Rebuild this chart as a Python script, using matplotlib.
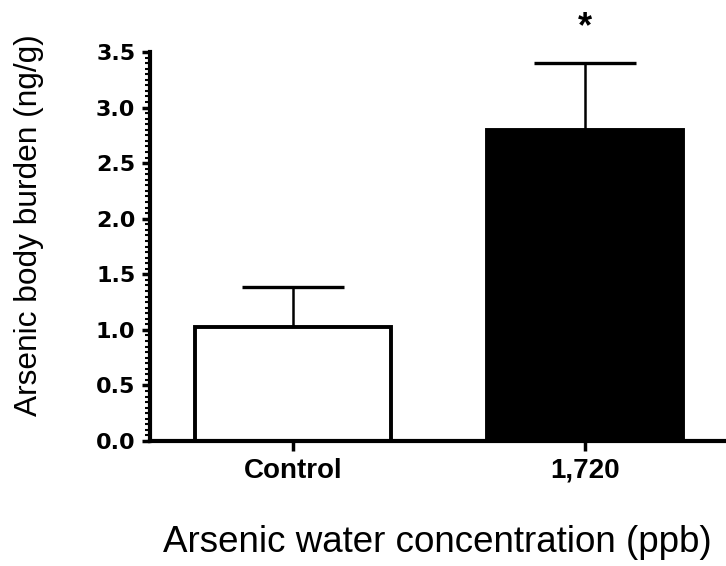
import matplotlib.pyplot as plt
from matplotlib.ticker import MultipleLocator

# data
groups = ["Control", "1,720"]
means = [1.03, 2.80]
sem = [0.36, 0.60]
colors = ["white", "black"]
sig = ["", "*"]

plt.rcParams["font.family"] = ["Liberation Sans", "DejaVu Sans"]

fig = plt.figure(figsize=(7.26, 5.66), dpi=100)
ax = fig.add_axes([150 / 726, 1 - 441 / 566, 1 - 150 / 726, (441 - 52) / 566])

x = range(len(groups))
ax.bar(x, means, width=0.67, color=colors, edgecolor="black", linewidth=2.8, zorder=2)
for xi, m, e in zip(x, means, sem):
    ax.errorbar(xi, m + e / 2, yerr=e / 2, fmt="none", ecolor="black",
                elinewidth=1.8, capsize=36.5, capthick=2.4, zorder=1)
for xi, m, e, s in zip(x, means, sem, sig):
    if s:
        ax.text(xi, 3.72, s, ha="center", va="center", fontsize=26,
                fontweight="bold", clip_on=False)

ax.set_xlim(-0.49, 1.483)
ax.set_ylim(0, 3.5)
ax.spines["top"].set_visible(False)
ax.spines["right"].set_visible(False)
ax.spines["left"].set_linewidth(3)
ax.spines["bottom"].set_linewidth(3)

ax.set_xticks(list(x))
ax.set_xticklabels(groups, fontsize=20, fontweight="bold")
ax.tick_params(axis="x", length=7, width=2.5, pad=5)
ax.yaxis.set_major_locator(MultipleLocator(0.5))
ax.yaxis.set_minor_locator(MultipleLocator(0.05))
ax.set_yticklabels([f"{v:.1f}" for v in ax.get_yticks()], fontsize=16,
                   fontweight="bold", family="DejaVu Sans")
ax.tick_params(axis="y", which="major", length=5.5, width=2.5, pad=5)
ax.tick_params(axis="y", which="minor", length=3.5, width=1.5)

fig.text(29 / 726, 1 - 225 / 566, "Arsenic body burden (ng/g)", fontsize=22.8,
         rotation=90, ha="center", va="center")
fig.text(437 / 726, 1 - 552 / 566, "Arsenic water concentration (ppb)",
         fontsize=26.5, ha="center", va="baseline")

fig.savefig("out.png", dpi=100)
